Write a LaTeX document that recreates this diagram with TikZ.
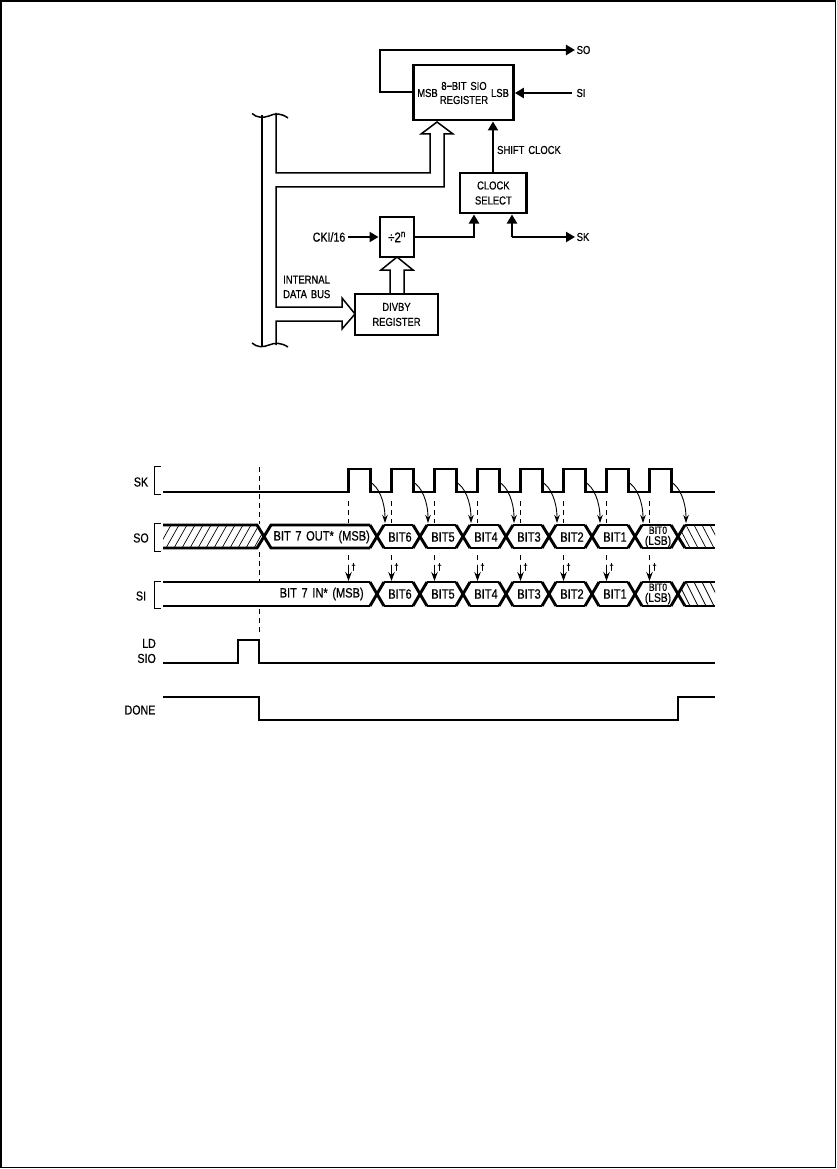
\documentclass[tikz,border=0pt]{standalone}
\usepackage{fontspec}
\setmainfont[FakeStretch=0.82,WordSpace=1.5,FakeBold=0.6]{Liberation Sans}
\usetikzlibrary{arrows.meta}
\tikzset{
  box/.style={draw,line width=2.7pt,outer sep=0pt,inner sep=0pt,align=center,font=\lbl,anchor=north west},
  lab/.style={inner sep=0pt,font=\lbl,align=center},
  tlab/.style={inner sep=0pt,font=\tlbl,align=center},
  bitlab/.style={inner sep=0pt,font=\bitlbl,align=center},
  wire/.style={line width=2.1pt,-{Triangle[length=9pt,width=10pt]},shorten >=1.5pt},
  bus/.style={line width=1.5pt,line join=miter},
  sig/.style={line width=2.9pt,line join=miter},
  thinline/.style={line width=1pt},
  hatchline/.style={line width=.7pt},
  dashline/.style={line width=1pt,dash pattern=on 5pt off 4pt},
  curve/.style={line width=.9pt,-{Stealth[length=8pt,width=5.5pt]}},
  darrow/.style={line width=1.2pt,-{Stealth[length=9pt,width=6.5pt]}},
}
\newcommand{\lbl}{\fontsize{11.5}{13}\selectfont}
\newcommand{\tlbl}{\fontsize{13}{14}\selectfont}
\newcommand{\bitlbl}{\fontsize{13.5}{14}\selectfont}
\newcommand{\bitz}{\fontsize{10.5}{10}\selectfont}
\newcommand{\lsblbl}{\fontsize{12.5}{12}\selectfont}
\newcommand{\daglbl}{\fontsize{9.5}{10}\selectfont}
\begin{document}
\begin{tikzpicture}[x=1pt,y=-1pt]
\useasboundingbox (0,0) rectangle (837,1169);
\draw[line width=1.8pt] (1,1) rectangle (835.5,1167.5);
% --- block diagram
\node[box,minimum width=99.6pt,minimum height=55pt] (reg) at (413.7,65) {};
\node[lab] (msb) at (427.5,93) {MSB};
\node[lab] (sio) at (464,93) {8\raisebox{.1ex}{\textbf{--}}BIT SIO\\[1pt]REGISTER};
\node[lab] (lsb) at (500,93) {LSB};
\node[box,minimum width=66.7pt,minimum height=40pt] (clk) at (460,173) {CLOCK\\[2pt]SELECT};
\node[box,minimum width=34pt,minimum height=40pt] (div) at (380,217) {\fontsize{14}{15}\selectfont ÷2\textsuperscript{n}};
\node[box,minimum width=83pt,minimum height=41pt] (dvb) at (355,294) {DIVBY\\[2pt]REGISTER};
\node[lab] (so) at (583.5,50) {SO};
\node[lab] (si) at (581,93) {SI};
\node[lab] (sk) at (583,237) {SK};
\node[lab,font=\tlbl] (cki) at (329,237) {CKI/16};
\node[lab] (shift) at (529,150) {SHIFT CLOCK};
\node[lab,align=left,anchor=north west] (idb) at (283,275.5) {INTERNAL\\[1.5pt]DATA BUS};
\coordinate (sok) at (380,50);
\draw[wire] (reg.west |- 0,92) -- (380,92) -- (sok) -- (so.west);
\draw[wire] (si.west) ++(-4,0) -- (reg.east |- si.west);
\draw[wire] (clk.north -| 493,0) -- (reg.south -| 493,0);
\draw[wire] (cki.east) ++(3,0) -- (div.west);
\draw[wire] (div.east) -| (clk.south -| 474,0);
\draw[wire] (512,237) -- (sk.west);
\draw[wire] (512,237) -- (clk.south -| 512,0);
% bus
\draw[bus] (276,113) -- (276,173) -- (430,173) -- (430,134) -- (421,134) -- (437,122) -- (453,134) -- (444,134) -- (444,187) -- (276,187) -- (276,307) -- (342,307) -- (342,298) -- (dvb.west |- 0,314) -- (342,329) -- (342,321) -- (276,321) -- (276,345);
\draw[line width=2pt] (262,115) -- (262,347);
\draw[bus] (dvb.north -| 390,0) -- (390,270) -- (381,270) -- (div.south -| 397,0) -- (413,270) -- (404,270) -- (dvb.north -| 404,0);
\draw[line width=1.5pt] (252,113.5) .. controls (257,118) and (263,118) .. (269,116) .. controls (275,113) and (281,113) .. (288,118);
\draw[line width=1.5pt] (252,343) .. controls (257,347.5) and (263,347.5) .. (269,345) .. controls (275,342.5) and (281,342.5) .. (288,347);
% --- timing
\foreach \n/\t/\y in {lsk/SK/482,lso/SO/538,lsi/SI/596}{\node[tlab] (\n) at (141,\y) {\t};}
\node[tlab,align=right,anchor=east] (lld) at (156,651) {LD\\[1pt]SIO};
\node[tlab] (ldn) at (140,710) {DONE};
\foreach \a/\b in {466/494,523/551,581/608}{\draw[thinline] (161,\a) -- (154,\a) -- (154,\b) -- (161,\b);}
% SK
\draw[sig] (163,492) -- (348.5,492)
  \foreach \k in {0,...,7}{ -- ++(0,-23) -- ++(22,0) -- ++(0,23) -- ++(21,0)} -- (715,492);
% SO and SI
\foreach \top/\bot in {525/548,582/606}{
  \foreach \c in {377,420,463,506,549,592,635,678}{
    \draw[sig] (\c-7,\top) -- (\c+7,\bot);
    \draw[sig] (\c-7,\bot) -- (\c+7,\top);
  }
  \foreach \c in {384,427,470,513,556,599,642}{
    \draw[sig] (\c,\top) -- (\c+29,\top);
    \draw[sig] (\c,\bot) -- (\c+29,\bot);
  }
  \draw[sig] (685,\top) -- (715,\top);
  \draw[sig] (685,\bot) -- (715,\bot);
  \begin{scope}
    \clip (678,{(\top+\bot)/2}) -- (685,\top) -- (715,\top) -- (715,\bot) -- (685,\bot) -- cycle;
    \foreach \x in {670,678,...,720}{\draw[hatchline] (\x,\top) -- (\x+12,\bot);}
  \end{scope}
}
\draw[sig] (163,525) -- (257,525) -- (271,548) -- (370,548);
\draw[sig] (163,548) -- (257,548) -- (271,525) -- (370,525);
\draw[sig] (163,582) -- (370,582);
\draw[sig] (163,606) -- (370,606);
\begin{scope}
  \clip (163,525) -- (257,525) -- (264,536.5) -- (257,548) -- (163,548) -- cycle;
  \foreach \x in {150,158,...,270}{\draw[hatchline] (\x,548) -- (\x+13,525);}
\end{scope}
\node[bitlab] (b7o) at (321.7,537) {BIT 7 OUT* (MSB)};
\node[bitlab] (b7i) at (321.7,594) {BIT 7 IN* (MSB)};
\foreach \n/\x in {6/400,5/443,4/486,3/529,2/572,1/615}{
  \node[bitlab] (so\n) at (\x,537) {BIT\n};
  \node[bitlab] (si\n) at (\x,594) {BIT\n};
}
\node[lab] (so0) at (658,537) {\bitz BIT0\\[-2pt]\lsblbl(LSB)};
\node[lab] (si0) at (658,594) {\bitz BIT0\\[-2pt]\lsblbl(LSB)};
% dashes and arrows
\draw[dashline] (259,467) -- (259,524);
\draw[dashline] (259,552) -- (259,581);
\draw[dashline] (259,609) -- (259,635);
\foreach \x in {348.5,391.5,434.5,477.5,520.5,563.5,606.5,649.5}{
  \draw[dashline] (\x,501) -- (\x,523);
  \draw[dashline] (\x,555) -- (\x,564);
  \draw[darrow] (\x,565) -- (\x,581);
  \node[lab,font=\daglbl] at (\x+5,567) {\dag};
}
\foreach \x in {370,413,456,499,542,585,628,671}{
  \draw[curve] (\x,482) .. controls (\x+9,487) and (\x+15,502) .. (\x+15,523);
}
% LD SIO, DONE
\draw[sig] (163,663) -- (238,663) -- (238,640) -- (259,640) -- (259,663) -- (715,663);
\draw[sig] (163,697) -- (259,697) -- (259,720) -- (678,720) -- (678,697) -- (715,697);
\end{tikzpicture}
\end{document}
